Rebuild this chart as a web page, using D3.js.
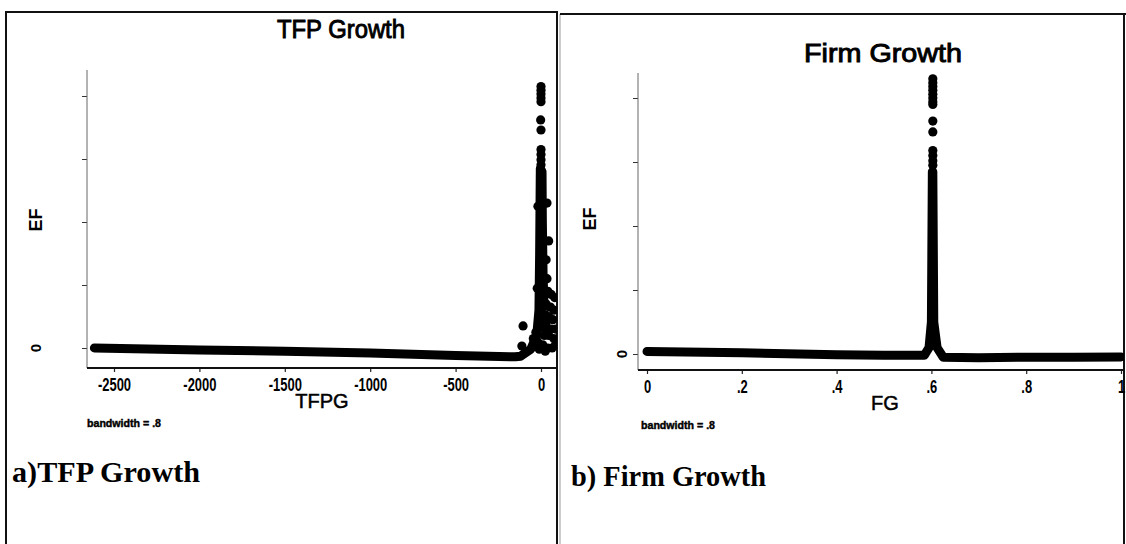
<!DOCTYPE html>
<html>
<head>
<meta charset="utf-8">
<script src="https://cdn.jsdelivr.net/npm/d3@7"></script>
<style>
  html, body { margin: 0; padding: 0; background: #fff; }
  svg { display: block; }
</style>
</head>
<body>
<svg id="chart" width="1126" height="544"></svg>
<script>
// ---------------- DATA ----------------
// Panel a) TFP Growth
const tfpgTicks = [-2500, -2000, -1500, -1000, -500, 0];
const tfpgTickLabels = ["-2500", "-2000", "-1500", "-1000", "-500", "0"];
// continuous density band (x = TFPG, y = EF)
const tfpgLineX = [-2615, -2000, -1500, -1000, -500, -150, -120, -60, -25, -12, -8, -6, -4, 6, 8, 12, 18, 25];
const tfpgLineY = [0.0, -0.03, -0.05, -0.08, -0.12, -0.14, -0.13, -0.02, 0.2, 0.6, 1.5, 2.2, 2.85, 2.8, 2.0, 1.2, 0.6, 0.3];
// separate dots (spike top and scattered points near zero)
const tfpgDotX = [0, 0, 0, 0, 0, -2, 0, 0, 0, 0, 0,
                  -18, 35, 45, 30, 35, -22,
                  40, 60, 80, 30, 55, 75, 45, 70, 30, 60, 85, 20, 45, 75, -30, -45, -20, 10, 40, 65, 85, -10, 25,
                  -105, -112];
const tfpgDotY = [4.15, 4.09, 4.03, 3.97, 3.91, 3.62, 3.46, 3.15, 3.07, 2.99, 2.91,
                  2.25, 2.3, 1.7, 1.4, 1.1, 0.95,
                  0.9, 0.85, 0.8, 0.7, 0.65, 0.6, 0.5, 0.45, 0.4, 0.3, 0.3, 0.2, 0.2, 0.15, 0.25, 0.15, 0.1, 0.05, 0.0, 0.0, 0.05, -0.02, -0.05,
                  0.35, 0.03];

// Panel b) Firm Growth
const fgTicks = [0, 0.2, 0.4, 0.6, 0.8, 1];
const fgTickLabels = ["0", ".2", ".4", ".6", ".8", "1"];
const fgLineX = [0, 0.2, 0.4, 0.5, 0.585, 0.595, 0.600, 0.602, 0.603, 0.605, 0.612, 0.625, 0.7, 0.8, 0.9, 1.0];
const fgLineY = [0.04, 0.02, -0.01, -0.02, -0.02, 0.1, 0.5, 2.85, 2.85, 0.5, 0.1, -0.05, -0.06, -0.05, -0.05, -0.045];
const fgDotX = [0.603, 0.603, 0.603, 0.603, 0.603, 0.603, 0.603, 0.603, 0.603, 0.603, 0.603, 0.603, 0.603, 0.603];
const fgDotY = [4.3, 4.24, 4.18, 4.12, 4.06, 4.0, 3.94, 3.9, 3.64, 3.47, 3.18, 3.1, 3.02, 2.95];

// shared y axis
const efTicks = [0, 1, 2, 3, 4];
const efTickLabels = ["0", "", "", "", ""];

const panelTitles = ["TFP Growth", "Firm Growth"];
const xLabels = ["TFPG", "FG"];
const captions = ["a)TFP Growth", "b) Firm Growth"];
const bandwidthNote = "bandwidth = .8";

// ---------------- DRAW ----------------
const svg = d3.select("#chart");
const sans = "'Liberation Sans', Arial, Helvetica, sans-serif";
const serif = "'Liberation Serif', 'Times New Roman', serif";

// panel frames
svg.append("path").attr("d", "M6,544 L6,12 L557,12 L557,544")
  .attr("fill", "none").attr("stroke", "#111").attr("stroke-width", 2);
svg.append("line").attr("x1", 560).attr("x2", 560).attr("y1", 14).attr("y2", 544)
  .attr("stroke", "#999").attr("stroke-width", 1);
svg.append("line").attr("x1", 560).attr("x2", 1126).attr("y1", 14).attr("y2", 14)
  .attr("stroke", "#111").attr("stroke-width", 2);
svg.append("line").attr("x1", 1124).attr("x2", 1124).attr("y1", 14).attr("y2", 544)
  .attr("stroke", "#111").attr("stroke-width", 2);

const panels = [
  {
    x: d3.scaleLinear().domain([-2500, 0]).range([114, 541]),
    y: d3.scaleLinear().domain([0, 4]).range([348, 96]),
    axisX: 87, axisTop: 70, axisBottomY: 368, plotRight: 557,
    ticks: tfpgTicks, tickLabels: tfpgTickLabels,
    lineX: tfpgLineX, lineY: tfpgLineY, dotX: tfpgDotX, dotY: tfpgDotY,
    title: panelTitles[0], titleX: 341, titleY: 38, titleLen: 128, titleSize: 25,
    xlabel: xLabels[0], xlabelX: 322, xlabelY: 408,
    efX: 36, efY: 220, zeroX: 36,
    bwX: 87, bwY: 427,
    caption: captions[0], capX: 12, capY: 482, capLen: 188,
    clipId: "clipA"
  },
  {
    x: d3.scaleLinear().domain([0, 1]).range([647, 1121]),
    y: d3.scaleLinear().domain([0, 4]).range([354, 98]),
    axisX: 638, axisTop: 73, axisBottomY: 370, plotRight: 1124,
    ticks: fgTicks, tickLabels: fgTickLabels,
    lineX: fgLineX, lineY: fgLineY, dotX: fgDotX, dotY: fgDotY,
    title: panelTitles[1], titleX: 883, titleY: 62, titleLen: 158, titleSize: 25,
    xlabel: xLabels[1], xlabelX: 885, xlabelY: 410,
    efX: 590, efY: 219, zeroX: 622,
    bwX: 641, bwY: 429,
    caption: captions[1], capX: 571, capY: 486, capLen: 195,
    clipId: "clipB"
  }
];

const defs = svg.append("defs");

panels.forEach(p => {
  const g = svg.append("g");

  // clip
  defs.append("clipPath").attr("id", p.clipId).append("rect")
    .attr("x", p.axisX + 1).attr("y", 20)
    .attr("width", p.plotRight - p.axisX - 1).attr("height", p.axisBottomY - 22);

  // title
  g.append("text").text(p.title)
    .attr("x", p.titleX).attr("y", p.titleY)
    .attr("text-anchor", "middle")
    .attr("font-family", sans).attr("font-size", p.titleSize)
    .attr("textLength", p.titleLen).attr("lengthAdjust", "spacingAndGlyphs")
    .attr("fill", "#000").attr("stroke", "#000").attr("stroke-width", 0.9);

  // y axis
  const yAxis = d3.axisLeft(p.y).tickValues(efTicks)
    .tickFormat((d, i) => efTickLabels[i]).tickSize(5).tickSizeOuter(0);
  const yg = g.append("g").attr("transform", `translate(${p.axisX},0)`).call(yAxis);
  yg.select(".domain").remove();
  yg.selectAll(".tick line").attr("stroke", "#333").attr("stroke-width", 1);
  yg.selectAll(".tick text").remove();
  g.append("line").attr("x1", p.axisX).attr("x2", p.axisX)
    .attr("y1", p.axisTop).attr("y2", p.axisBottomY)
    .attr("stroke", "#666").attr("stroke-width", 1);
  // "0" label (rotated like Stata)
  efTicks.forEach((t, i) => {
    if (!efTickLabels[i]) return;
    g.append("text").text(efTickLabels[i])
      .attr("transform", `translate(${p.zeroX},${p.y(t)}) rotate(-90)`)
      .attr("text-anchor", "middle").attr("dy", "0.35em")
      .attr("font-family", sans).attr("font-size", 15).attr("font-weight", "bold")
      .attr("fill", "#000");
  });
  // EF label
  g.append("text").text("EF")
    .attr("transform", `translate(${p.efX},${p.efY}) rotate(-90)`)
    .attr("text-anchor", "middle").attr("dy", "0.35em")
    .attr("font-family", sans).attr("font-size", 18).attr("font-weight", "bold")
    .attr("fill", "#000");

  // x axis
  const xAxis = d3.axisBottom(p.x).tickValues(p.ticks)
    .tickFormat((d, i) => p.tickLabels[i]).tickSize(4).tickSizeOuter(0).tickPadding(6);
  const xg = g.append("g").attr("transform", `translate(0,${p.axisBottomY})`).call(xAxis);
  xg.select(".domain").remove();
  xg.selectAll(".tick line").attr("stroke", "#222").attr("stroke-width", 1.2);
  xg.selectAll(".tick text")
    .attr("font-family", sans).attr("font-size", 18).attr("font-weight", "bold")
    .attr("fill", "#000").attr("transform", "scale(0.72,1)");
  g.append("line").attr("x1", p.axisX).attr("x2", p.plotRight)
    .attr("y1", p.axisBottomY).attr("y2", p.axisBottomY)
    .attr("stroke", "#111").attr("stroke-width", 1.8);

  // x label
  g.append("text").text(p.xlabel)
    .attr("x", p.xlabelX).attr("y", p.xlabelY).attr("text-anchor", "middle")
    .attr("font-family", sans).attr("font-size", 20)
    .attr("fill", "#000").attr("stroke", "#000").attr("stroke-width", 0.5);

  // bandwidth note
  g.append("text").text(bandwidthNote)
    .attr("x", p.bwX).attr("y", p.bwY)
    .attr("font-family", sans).attr("font-size", 10).attr("font-weight", "bold")
    .attr("textLength", 74).attr("lengthAdjust", "spacingAndGlyphs")
    .attr("fill", "#000").attr("stroke", "#000").attr("stroke-width", 0.4);

  // caption
  g.append("text").text(p.caption)
    .attr("x", p.capX).attr("y", p.capY)
    .attr("font-family", serif).attr("font-size", 30).attr("font-weight", "bold")
    .attr("textLength", p.capLen).attr("lengthAdjust", "spacingAndGlyphs")
    .attr("fill", "#000");

  // marks
  const mg = g.append("g").attr("clip-path", `url(#${p.clipId})`);
  const pts = p.lineX.map((x, i) => [x, p.lineY[i]]);
  const line = d3.line().x(d => p.x(d[0])).y(d => p.y(d[1]));
  mg.append("path").attr("d", line(pts))
    .attr("fill", "none").attr("stroke", "#000").attr("stroke-width", 9)
    .attr("stroke-linecap", "round").attr("stroke-linejoin", "round");
  mg.selectAll("circle.dot").data(p.dotX.map((x, i) => [x, p.dotY[i]]))
    .join("circle").attr("class", "dot")
    .attr("cx", d => p.x(d[0])).attr("cy", d => p.y(d[1])).attr("r", 4.6)
    .attr("fill", "#000");
});
</script>
</body>
</html>
